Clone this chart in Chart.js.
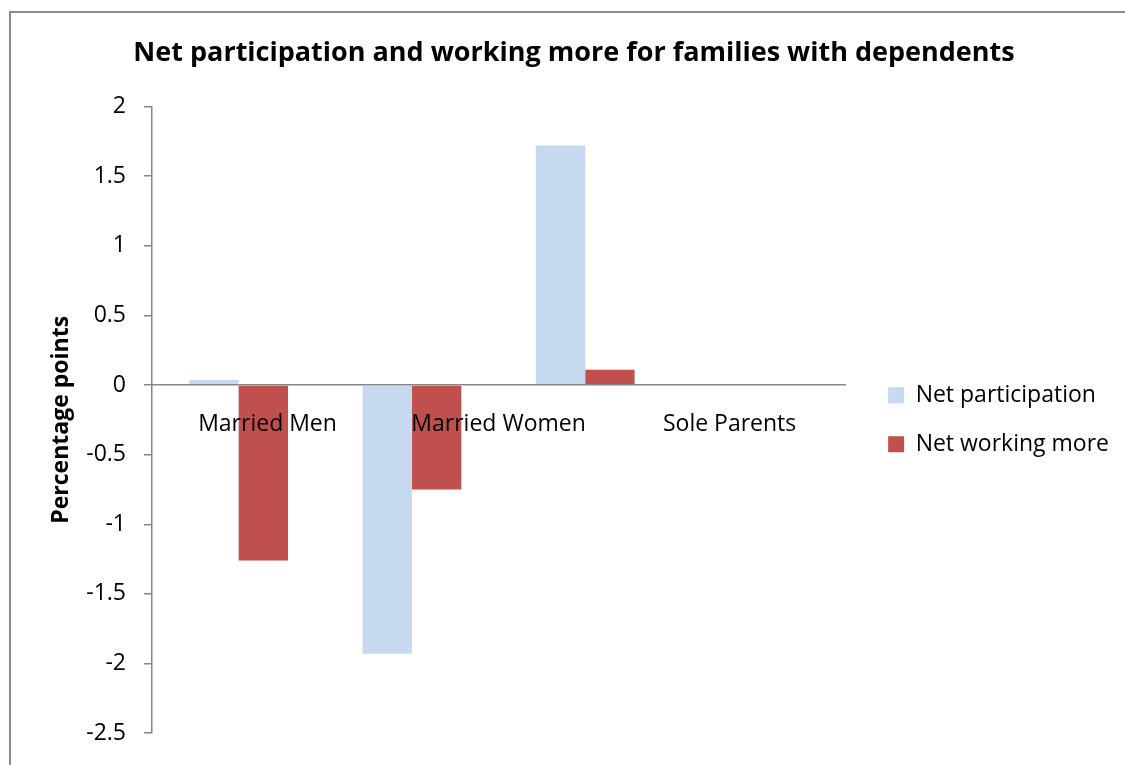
<!DOCTYPE html>
<html lang="en">
<head>
    <meta charset="UTF-8">
    <title>Net participation and working more</title>
    <script src="https://cdn.jsdelivr.net/npm/chart.js"></script>
    <style>
        html, body {
            margin: 0;
            padding: 0;
            background: #fff;
            overflow: hidden;
        }
        .frame {
            position: absolute;
            left: 9px;
            top: 11px;
            width: 1200px;
            height: 800px;
            border: 2px solid #8c8c8c;
        }
        #chart {
            position: absolute;
            left: 0;
            top: 0;
        }
    </style>
</head>
<body>
    <div class="frame"></div>
    <canvas id="chart" width="1125" height="765"></canvas>

    <script>
        // groups shown under the zero line
        const groups = ['Married Men', 'Married Women', 'Sole Parents'];
        // bar slots (the last one is left empty)
        const barSlots = ['Married Men', 'Married Women', 'Sole Parents', ''];

        const netParticipation = [0.035, -1.93, 1.72];
        const netWorkingMore = [-1.26, -0.75, 0.11];

        const yMin = -2.5;
        const yMax = 2;
        const yStep = 0.5;

        const fontFamily = '"Open Sans", sans-serif';
        const axisGrey = '#868686';

        Chart.defaults.font.family = fontFamily;
        Chart.defaults.color = '#000';

        new Chart(document.getElementById('chart'), {
            type: 'bar',
            data: {
                labels: barSlots,
                datasets: [{
                    label: 'Net participation',
                    data: netParticipation,
                    backgroundColor: '#c6d9f1',
                    xAxisID: 'xb',
                    yAxisID: 'y'
                }, {
                    label: 'Net working more',
                    data: netWorkingMore,
                    backgroundColor: '#c0504d',
                    xAxisID: 'xb',
                    yAxisID: 'y'
                }]
            },
            options: {
                responsive: false,
                animation: false,
                layout: {
                    padding: { left: 29, right: 6, top: 0, bottom: 24 }
                },
                datasets: {
                    bar: {
                        barPercentage: 1,
                        categoryPercentage: 0.57,
                        borderWidth: 0
                    }
                },
                scales: {
                    xb: {
                        type: 'category',
                        labels: barSlots,
                        display: false
                    },
                    x: {
                        type: 'category',
                        labels: groups,
                        position: { y: 0 },
                        offset: true,
                        grid: { display: true, drawOnChartArea: false, drawTicks: false },
                        // zero line and labels are drawn over the bars
                        border: { display: true, color: axisGrey, width: 1.5, z: 1 },
                        ticks: {
                            z: 1,
                            padding: 26,
                            maxRotation: 0,
                            font: { size: 23 }
                        }
                    },
                    y: {
                        min: yMin,
                        max: yMax,
                        ticks: {
                            stepSize: yStep,
                            padding: 18,
                            font: { size: 23 },
                            callback: v => String(v)
                        },
                        grid: {
                            drawOnChartArea: false,
                            tickLength: 8,
                            color: axisGrey,
                            lineWidth: 1.5
                        },
                        border: { display: true, color: axisGrey, width: 1.5 },
                        title: {
                            display: true,
                            text: 'Percentage points',
                            font: { size: 23, weight: 'bold' },
                            padding: { top: 19, bottom: 0 }
                        },
                        afterFit: s => { s.width = 123; }
                    },
                    // hidden gap between the plot and the legend
                    spacer: {
                        type: 'linear',
                        position: 'right',
                        display: false,
                        afterFit: s => { s.width = 17; }
                    }
                },
                plugins: {
                    title: {
                        display: true,
                        text: 'Net participation and working more for families with dependents',
                        font: { size: 27, weight: 'bold' },
                        padding: { top: 37, bottom: 37 }
                    },
                    legend: {
                        position: 'right',
                        fullSize: false,
                        labels: {
                            boxWidth: 16,
                            boxHeight: 16,
                            padding: 26,
                            font: { size: 23 }
                        }
                    },
                    tooltip: { enabled: false }
                }
            }
        });
    </script>
</body>
</html>
